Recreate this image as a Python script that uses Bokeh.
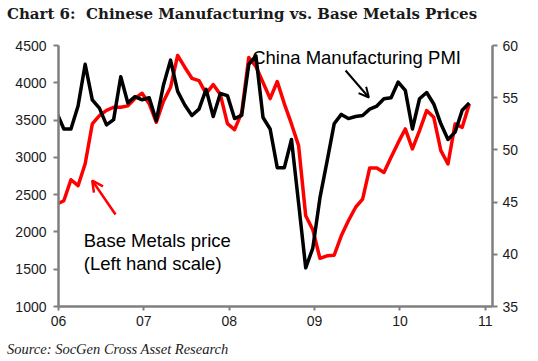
import pandas as pd
from bokeh.plotting import figure
from bokeh.layouts import column
from bokeh.models import (Range1d, LinearAxis, FixedTicker, Label, Arrow, OpenHead, Div)
from bokeh.embed import file_html
from bokeh.resources import INLINE

# ---- data (monthly, Dec 2005 .. Oct 2010) ----
start_month = "2005-12"
end_month = "2010-10"
base_metals = [2371, 2418, 2700, 2620, 2915, 3448, 3560, 3630, 3672, 3672,
               3690, 3790, 3860, 3720, 3470, 3750, 3940, 4366, 4209, 4060,
               4030, 3855, 3976, 3842, 3453, 3372, 3600, 4339, 4218, 4003,
               3788, 4017, 3717, 3448, 3157, 2217, 2029, 1646, 1680, 1687,
               1948, 2150, 2328, 2441, 2858, 2858, 2798, 3000, 3197, 3381,
               3113, 3358, 3627, 3537, 3090, 2911, 3448, 3403, 3717]
china_pmi = [53.6, 52.0, 52.0, 54.2, 58.2, 54.8, 54.0, 52.4, 52.9, 57.0,
             54.5, 55.1, 54.8, 55.0, 52.8, 56.2, 58.6, 55.6, 54.3, 53.3,
             53.9, 55.8, 53.2, 55.4, 55.2, 53.0, 53.3, 58.2, 59.0, 53.1,
             52.0, 48.3, 48.3, 51.0, 44.9, 38.7, 40.6, 45.4, 48.9, 52.5,
             53.4, 53.0, 53.2, 53.3, 53.9, 54.2, 54.9, 55.0, 56.5, 55.7,
             52.0, 54.9, 55.5, 54.4, 52.5, 51.0, 51.7, 53.8, 54.5]
year_ticks = [2006, 2007, 2008, 2009, 2010, 2011]
year_labels = ["06", "07", "08", "09", "10", "11"]
left_ticks = [1000, 1500, 2000, 2500, 3000, 3500, 4000, 4500]
right_ticks = [35, 40, 45, 50, 55, 60]
title_text = "Chart 6:&nbsp; Chinese Manufacturing vs. Base Metals Prices"
source_text = "Source: SocGen Cross Asset Research"

months = pd.period_range(start_month, end_month, freq="M")
x = [m.year + (m.month - 0.25) / 12.0 for m in months]  # near month-end

AX = "#7f7f7f"
SANS = "Liberation Sans"

title_div = Div(text=title_text, width=538, height=28, margin=0,
                styles={"font-family": "DejaVu Serif", "font-weight": "bold",
                        "font-size": "15px", "line-height": "28px",
                        "color": "#1a1a1a", "padding-left": "7px",
                        "white-space": "nowrap"})
source_div = Div(text=source_text, width=538, height=20, margin=0,
                 styles={"font-family": "Liberation Serif", "font-style": "italic",
                         "font-size": "14.5px", "line-height": "16px",
                         "color": "#1a1a1a", "padding-left": "7px",
                         "white-space": "nowrap"})

p = figure(width=538, height=313, output_backend="svg", toolbar_location=None,
           x_range=Range1d(2006, 2011.084), y_range=Range1d(1000, 4500),
           min_border_left=58, min_border_right=46, min_border_top=17,
           min_border_bottom=35, background_fill_color="white",
           border_fill_color="white", margin=0)
p.outline_line_color = None
p.grid.visible = False
p.extra_y_ranges = {"pmi": Range1d(35, 60)}

p.line(x, base_metals, line_color="#ff0000", line_width=3.5, line_join="round")
p.line(x, china_pmi, y_range_name="pmi", line_color="black", line_width=3.5,
       line_join="round")

right = LinearAxis(y_range_name="pmi")
p.add_layout(right, "right")

for ax in [p.xaxis[0], p.yaxis[0], right]:
    ax.axis_line_color = AX
    ax.axis_line_width = 2.5
    ax.major_tick_line_color = AX
    ax.major_tick_line_width = 2
    ax.major_tick_in = 0
    ax.major_tick_out = 5
    ax.minor_tick_line_color = None
    ax.major_label_text_font = SANS
    ax.major_label_text_font_size = "14px"
    ax.major_label_text_color = "#1a1a1a"

p.xaxis[0].ticker = FixedTicker(ticks=year_ticks)
p.xaxis[0].major_label_overrides = {t: l for t, l in zip(year_ticks, year_labels)}
p.xaxis[0].major_tick_out = 4
p.xaxis[0].major_label_standoff = 5
p.yaxis[0].ticker = FixedTicker(ticks=left_ticks)
p.yaxis[0].major_label_standoff = 7
right.ticker = FixedTicker(ticks=right_ticks)
right.major_label_standoff = 5

# in-plot annotations (data coordinates of the left scale)
p.add_layout(Label(x=2008.269, y=4339, text="China Manufacturing PMI",
                   text_font=SANS, text_font_size="18.5px", text_color="black",
                   text_baseline="alphabetic"))
p.add_layout(Label(x=2006.296, y=1885, text="Base Metals price",
                   text_font=SANS, text_font_size="18.5px", text_color="black",
                   text_baseline="alphabetic"))
p.add_layout(Label(x=2006.296, y=1577, text="(Left hand scale)",
                   text_font=SANS, text_font_size="18.5px", text_color="black",
                   text_baseline="alphabetic"))

p.add_layout(Arrow(x_start=2009.363, y_start=4165, x_end=2009.636, y_end=3803,
                   line_color="black", line_width=2,
                   end=OpenHead(size=10, line_color="black", line_width=2)))
p.add_layout(Arrow(x_start=2006.668, y_start=2234, x_end=2006.395, y_end=2690,
                   line_color="#ff0000", line_width=2.5,
                   end=OpenHead(size=11, line_color="#ff0000", line_width=2.5)))

layout = column(title_div, p, source_div, spacing=0, margin=0)
open("out.html", "w").write(file_html(layout, INLINE))
